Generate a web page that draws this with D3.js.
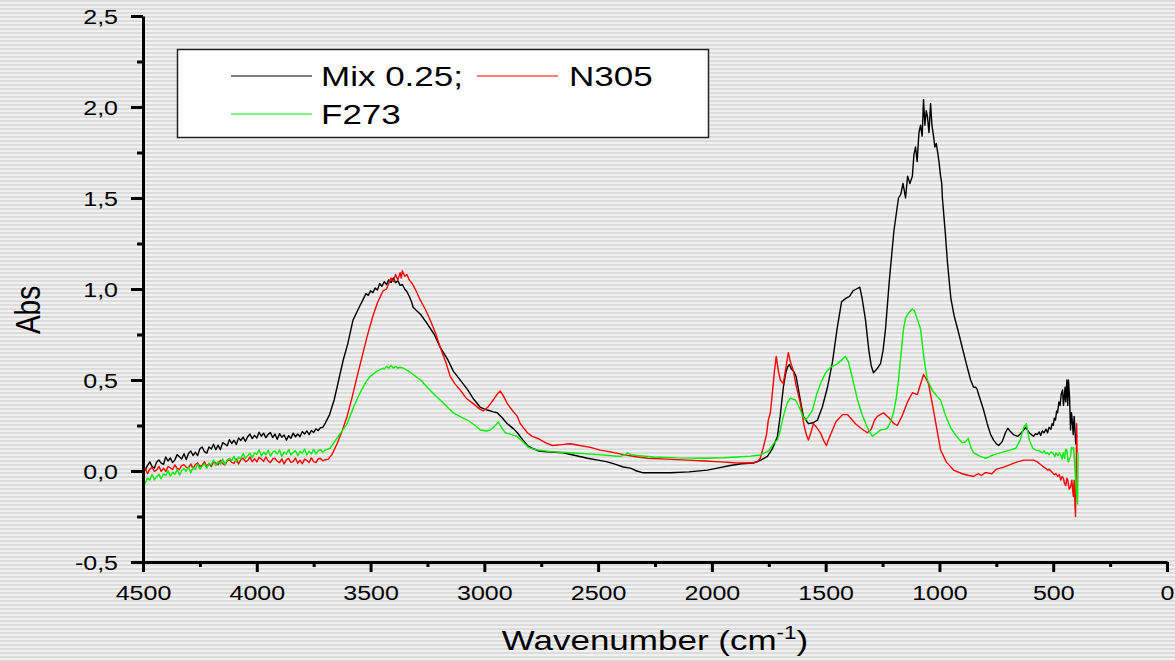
<!DOCTYPE html>
<html>
<head>
<meta charset="utf-8">
<script src="https://cdn.jsdelivr.net/npm/d3@7"></script>
<style>
  body { margin: 0; background: #e8e8e8; }
  svg { display: block; font-family: "Liberation Sans", Arial, sans-serif; }
</style>
</head>
<body>
<svg id="chart" width="1175" height="661"></svg>
<script>
// Axis ticks and labels
const xMajorTicks = [4500, 4000, 3500, 3000, 2500, 2000, 1500, 1000, 500, 0];
const xTickLabels = ["4500", "4000", "3500", "3000", "2500", "2000", "1500", "1000", "500", "0"];
const xMinorTicks = [4250, 3750, 3250, 2750, 2250, 1750, 1250, 750, 250];
const yMajorTicks = [-0.5, 0, 0.5, 1, 1.5, 2, 2.5];
const yTickLabels = ["-0,5", "0,0", "0,5", "1,0", "1,5", "2,0", "2,5"];
const yMinorTicks = [-0.25, 0.25, 0.75, 1.25, 1.75, 2.25];

const seriesNames = ["Mix 0.25;", "N305", "F273"];
const seriesColors = ["#000000", "#ff0000", "#00ee00"];

// Spectra: [wavenumber (cm-1), absorbance]
const mix = [
  [4500,0.032],[4490,0.006],[4480,0.031],[4470,0.05],[4460,0.024],[4450,0.016],[4440,0.049],[4430,0.06],[4420,0.043],[4410,0.036],
  [4400,0.077],[4390,0.055],[4380,0.072],[4370,0.046],[4360,0.061],[4350,0.09],[4340,0.078],[4330,0.066],[4320,0.095],[4310,0.063],
  [4300,0.096],[4290,0.11],[4280,0.085],[4270,0.104],[4260,0.085],[4250,0.122],[4240,0.132],[4230,0.106],[4220,0.098],[4210,0.132],
  [4200,0.121],[4190,0.147],[4180,0.117],[4170,0.142],[4160,0.117],[4150,0.156],[4140,0.148],[4130,0.138],[4120,0.173],[4110,0.151],
  [4100,0.169],[4090,0.146],[4080,0.182],[4070,0.168],[4060,0.186],[4050,0.162],[4040,0.188],[4030,0.203],[4020,0.178],[4010,0.196],
  [4000,0.181],[3990,0.213],[3980,0.192],[3970,0.208],[3960,0.183],[3950,0.201],[3940,0.211],[3930,0.184],[3920,0.203],[3910,0.174],
  [3900,0.205],[3890,0.186],[3880,0.198],[3870,0.17],[3860,0.194],[3850,0.18],[3840,0.208],[3830,0.188],[3820,0.203],[3810,0.188],
  [3800,0.217],[3790,0.203],[3780,0.22],[3770,0.2],[3760,0.223],[3750,0.212],[3740,0.232],[3730,0.222],[3720,0.238],[3710,0.24],
  [3700,0.26],[3680,0.31],[3660,0.39],[3640,0.5],[3620,0.61],[3600,0.7],[3577,0.83],[3550,0.9],[3530,0.95],
  [3520,0.975],[3510,0.965],[3500,0.99],[3490,0.98],[3480,1.005],[3470,0.995],[3460,1.03],[3450,1.015],[3440,1.04],[3430,1.025],
  [3420,1.05],[3410,1.035],[3400,1.06],[3390,1.035],[3380,1.045],[3370,1.02],[3360,1.025],[3350,1.0],[3340,0.985],[3330,0.96],
  [3320,0.93],[3313,0.9],[3280,0.86],[3251,0.81],[3220,0.75],[3194,0.68],[3160,0.61],[3137,0.55],[3100,0.49],[3075,0.45],
  [3050,0.4],[3018,0.35],[2987,0.335],[2960,0.325],[2943,0.32],[2920,0.29],[2899,0.26],[2870,0.23],[2855,0.21],[2830,0.17],
  [2811,0.14],[2790,0.125],[2760,0.11],[2723,0.105],[2653,0.1],[2600,0.085],[2547,0.07],[2500,0.06],[2459,0.05],[2420,0.035],
  [2389,0.022],[2358,0.016],[2330,0.0],[2301,-0.01],[2250,-0.01],[2182,-0.01],[2100,-0.005],[2020,0.005],[1960,0.02],[1919,0.03],
  [1870,0.04],[1817,0.044],[1785,0.06],[1756,0.08],[1735,0.12],[1712,0.19],[1700,0.3],[1686,0.46],[1675,0.54],[1668,0.57],
  [1660,0.585],[1650,0.56],[1642,0.55],[1630,0.52],[1620,0.45],[1610,0.38],[1598,0.3],[1576,0.26],[1555,0.265],[1536,0.28],
  [1515,0.35],[1492,0.46],[1470,0.6],[1450,0.78],[1430,0.93],[1410,0.95],[1395,0.96],[1380,0.99],[1365,1.0],[1350,1.01],
  [1340,0.95],[1325,0.83],[1310,0.66],[1300,0.58],[1290,0.54],[1275,0.56],[1259,0.59],[1248,0.66],[1237,0.78],[1220,1.05],
  [1200,1.32],[1180,1.5],[1170,1.52],[1160,1.58],[1149,1.5],[1140,1.62],[1130,1.58],[1119,1.62],[1112,1.74],[1105,1.78],
  [1098,1.7],[1090,1.86],[1083,1.9],[1076,1.84],[1070,2.04],[1064,1.9],[1058,1.98],[1053,1.95],[1046,1.86],[1039,2.02],
  [1033,1.9],[1026,1.84],[1020,1.78],[1014,1.8],[1009,1.76],[1002,1.7],[995,1.62],[990,1.58],[987,1.5],[975,1.32],
  [965,1.15],[950,0.95],[935,0.85],[920,0.78],[900,0.68],[880,0.58],[863,0.5],[850,0.46],[840,0.46],[835,0.45],
  [820,0.39],[806,0.335],[790,0.26],[775,0.2],[762,0.17],[750,0.15],[740,0.14],[725,0.16],[710,0.21],[700,0.235],
  [690,0.22],[675,0.2],[656,0.19],[640,0.21],[621,0.24],[605,0.21],[586,0.19],[578,0.205],[570,0.2],[562,0.215],[555,0.195],
  [548,0.22],[540,0.21],[532,0.23],[525,0.21],[518,0.24],[510,0.23],[505,0.26],[500,0.25],[495,0.29],[490,0.28],[485,0.33],
  [481,0.32],[475,0.38],[470,0.36],[465,0.42],[459,0.445],[455,0.36],[452,0.4],[448,0.46],[445,0.38],[440,0.5],[436,0.36],
  [433,0.5],[428,0.4],[424,0.225],[420,0.32],[418,0.3],[412,0.2],[408,0.3],[405,0.24],[401,0.15],[398,0.19],[393,0.19]
];

const n305 = [
  [4500,-0.005],[4490,0.013],[4480,-0.015],[4470,0.01],[4460,0.019],[4450,-0.002],[4440,0.005],[4430,0.025],[4420,-0.002],[4410,0.016],
  [4400,-0.002],[4390,0.024],[4380,0.018],[4370,0.008],[4360,0.033],[4350,0.014],[4340,0.007],[4330,0.03],[4320,0.035],[4310,0.021],
  [4300,0.016],[4290,0.039],[4280,0.013],[4270,0.036],[4260,0.045],[4250,0.025],[4240,0.031],[4230,0.051],[4220,0.024],[4210,0.042],
  [4200,0.024],[4190,0.05],[4180,0.044],[4170,0.034],[4160,0.059],[4150,0.04],[4140,0.033],[4130,0.056],[4120,0.061],[4110,0.047],
  [4100,0.042],[4090,0.065],[4080,0.039],[4070,0.062],[4060,0.071],[4050,0.051],[4040,0.057],[4030,0.077],[4020,0.05],[4010,0.068],
  [4000,0.05],[3990,0.075],[3980,0.066],[3970,0.054],[3960,0.077],[3950,0.055],[3940,0.046],[3930,0.067],[3920,0.07],[3910,0.053],
  [3900,0.046],[3890,0.067],[3880,0.039],[3870,0.061],[3860,0.069],[3850,0.047],[3840,0.052],[3830,0.071],[3820,0.043],[3810,0.059],
  [3800,0.04],[3790,0.065],[3780,0.058],[3770,0.047],[3760,0.072],[3750,0.051],[3740,0.046],[3730,0.066],[3720,0.069],[3710,0.056],
  [3700,0.062],[3686,0.065],[3670,0.09],[3647,0.15],[3625,0.22],[3603,0.3],[3580,0.41],[3559,0.52],[3537,0.63],[3515,0.74],
  [3490,0.85],[3471,0.92],[3445,0.99],[3430,1.0],[3420,1.03],[3410,1.06],[3400,1.04],[3390,1.08],[3380,1.05],[3370,1.09],
  [3365,1.06],[3360,1.1],[3350,1.07],[3340,1.08],[3330,1.05],[3317,1.03],[3300,0.99],[3282,0.94],[3260,0.89],[3238,0.83],
  [3215,0.76],[3194,0.68],[3170,0.6],[3150,0.52],[3130,0.48],[3106,0.445],[3080,0.4],[3049,0.37],[3020,0.34],[3005,0.33],
  [2985,0.35],[2961,0.39],[2945,0.42],[2930,0.44],[2915,0.41],[2899,0.37],[2875,0.33],[2855,0.3],[2842,0.26],[2811,0.21],
  [2790,0.19],[2767,0.18],[2730,0.155],[2701,0.14],[2660,0.145],[2622,0.15],[2580,0.14],[2534,0.13],[2490,0.115],[2446,0.105],
  [2389,0.09],[2340,0.08],[2284,0.07],[2200,0.065],[2108,0.06],[2030,0.055],[1963,0.05],[1900,0.045],[1831,0.044],[1800,0.05],
  [1787,0.07],[1774,0.13],[1760,0.2],[1752,0.28],[1743,0.32],[1735,0.42],[1725,0.55],[1717,0.63],[1708,0.55],[1699,0.5],
  [1686,0.48],[1676,0.56],[1664,0.65],[1655,0.6],[1642,0.55],[1630,0.47],[1611,0.37],[1595,0.25],[1585,0.2],[1576,0.17],
  [1565,0.21],[1554,0.26],[1540,0.24],[1523,0.21],[1510,0.17],[1497,0.14],[1485,0.18],[1470,0.225],[1455,0.27],[1448,0.28],
  [1425,0.31],[1404,0.31],[1390,0.29],[1369,0.26],[1345,0.235],[1317,0.21],[1300,0.23],[1285,0.28],[1273,0.3],[1246,0.32],
  [1220,0.29],[1200,0.26],[1185,0.25],[1165,0.3],[1140,0.38],[1119,0.43],[1097,0.42],[1085,0.47],[1070,0.53],[1060,0.51],
  [1048,0.48],[1030,0.36],[1010,0.22],[995,0.115],[970,0.05],[938,0.005],[900,-0.015],[870,-0.025],[850,-0.03],[830,-0.015],
  [815,-0.025],[800,-0.01],[789,-0.01],[770,-0.015],[750,0.01],[720,0.02],[700,0.03],[670,0.045],[630,0.06],[586,0.06],
  [570,0.05],[560,0.04],[550,0.03],[540,0.02],[532,0.015],[525,0.005],[518,0.01],[510,0.0],[503,-0.01],[495,-0.02],
  [488,-0.015],[480,-0.03],[473,-0.02],[467,-0.05],[461,-0.03],[455,-0.04],[450,-0.07],[445,-0.08],[440,-0.04],[436,-0.05],
  [430,-0.1],[424,-0.09],[418,-0.05],[412,-0.14],[408,-0.05],[404,-0.2],[402,-0.25],[399,0.0],[397,0.26],[395,0.1]
];

const f273 = [
  [4500,-0.035],[4490,-0.067],[4480,-0.039],[4470,-0.049],[4460,-0.02],[4450,-0.048],[4440,-0.031],[4430,-0.018],[4420,-0.043],[4410,-0.016],
  [4400,-0.025],[4390,0.002],[4380,-0.029],[4370,-0.006],[4360,-0.019],[4350,0.008],[4340,-0.022],[4330,0.003],[4320,0.012],[4310,-0.001],
  [4300,0.023],[4290,-0.009],[4280,0.019],[4270,0.009],[4260,0.038],[4250,0.011],[4240,0.027],[4230,0.04],[4220,0.015],[4210,0.042],
  [4200,0.033],[4190,0.06],[4180,0.029],[4170,0.052],[4160,0.039],[4150,0.066],[4140,0.036],[4130,0.061],[4120,0.07],[4110,0.057],
  [4100,0.081],[4090,0.049],[4080,0.077],[4070,0.067],[4060,0.096],[4050,0.069],[4040,0.085],[4030,0.098],[4020,0.073],[4010,0.1],
  [4000,0.091],[3990,0.116],[3980,0.083],[3970,0.104],[3960,0.089],[3950,0.114],[3940,0.082],[3930,0.104],[3920,0.11],[3910,0.094],
  [3900,0.115],[3890,0.08],[3880,0.105],[3870,0.092],[3860,0.118],[3850,0.088],[3840,0.102],[3830,0.112],[3820,0.084],[3810,0.108],
  [3800,0.096],[3790,0.121],[3780,0.088],[3770,0.109],[3760,0.094],[3750,0.119],[3740,0.094],[3730,0.111],[3720,0.118],[3710,0.103],
  [3700,0.115],[3678,0.125],[3642,0.19],[3603,0.26],[3575,0.35],[3546,0.43],[3520,0.49],[3502,0.52],[3470,0.55],[3445,0.565],
  [3440,0.56],[3430,0.575],[3420,0.565],[3410,0.58],[3400,0.565],[3390,0.575],[3380,0.565],[3370,0.57],[3357,0.565],[3335,0.55],
  [3313,0.53],[3280,0.5],[3251,0.46],[3220,0.42],[3194,0.39],[3165,0.355],[3137,0.32],[3100,0.295],[3075,0.28],[3040,0.25],
  [3018,0.225],[2990,0.22],[2974,0.225],[2955,0.245],[2939,0.27],[2925,0.24],[2908,0.21],[2880,0.2],[2855,0.19],[2830,0.16],
  [2807,0.13],[2767,0.115],[2700,0.105],[2622,0.1],[2500,0.09],[2402,0.08],[2380,0.09],[2371,0.1],[2355,0.09],[2330,0.085],
  [2257,0.077],[2150,0.072],[2037,0.07],[1950,0.073],[1888,0.077],[1830,0.082],[1787,0.088],[1750,0.11],[1730,0.15],[1712,0.17],
  [1700,0.22],[1686,0.3],[1670,0.37],[1655,0.4],[1645,0.395],[1633,0.39],[1620,0.36],[1611,0.335],[1600,0.3],[1589,0.28],
  [1575,0.3],[1558,0.335],[1540,0.42],[1523,0.48],[1500,0.54],[1479,0.57],[1460,0.58],[1448,0.59],[1430,0.61],[1413,0.63],
  [1400,0.6],[1391,0.555],[1375,0.47],[1360,0.39],[1340,0.31],[1317,0.24],[1295,0.19],[1280,0.205],[1259,0.225],[1240,0.23],
  [1229,0.235],[1215,0.27],[1202,0.32],[1190,0.4],[1180,0.5],[1170,0.63],[1158,0.78],[1149,0.84],[1135,0.87],[1120,0.89],
  [1110,0.88],[1096,0.83],[1083,0.78],[1068,0.62],[1053,0.5],[1030,0.44],[1010,0.41],[995,0.39],[975,0.31],[952,0.24],
  [925,0.19],[899,0.155],[885,0.16],[873,0.18],[862,0.13],[850,0.1],[820,0.08],[797,0.07],[760,0.09],[718,0.105],
  [690,0.115],[665,0.125],[645,0.17],[630,0.24],[618,0.26],[605,0.17],[590,0.125],[575,0.115],[560,0.11],[548,0.1],
  [540,0.11],[532,0.095],[525,0.1],[518,0.09],[510,0.105],[500,0.095],[493,0.08],[487,0.1],[480,0.085],[473,0.1],
  [467,0.09],[461,0.065],[456,0.1],[450,0.07],[445,0.12],[440,0.11],[434,0.05],[430,0.06],[424,0.08],[420,0.13],
  [416,0.12],[410,0.13],[404,0.0],[398,-0.12],[393,-0.18],[391,0.1]
];

const W = 1175, H = 661;
const svg = d3.select("#chart");
const stretch = 1.25; // horizontal glyph stretch of all labels

// Striped backdrop
const defs = svg.append("defs");
const pat = defs.append("pattern")
  .attr("id", "stripes").attr("patternUnits", "userSpaceOnUse")
  .attr("width", 8).attr("height", 4);
pat.append("rect").attr("width", 8).attr("height", 4).attr("fill", "#f1f1f1");
pat.append("rect").attr("width", 8).attr("height", 2).attr("fill", "#dcdcdc");
svg.append("rect").attr("width", W).attr("height", H).attr("fill", "url(#stripes)");

const x = d3.scaleLinear().domain([4500, 0]).range([143, 1167]);
const y = d3.scaleLinear().domain([-0.5, 2.5]).range([562, 16]);

// Spectra
const line = d3.line().x(d => x(d[0])).y(d => y(d[1]));
const plot = svg.append("g");
[mix, n305, f273].forEach((s, i) => {
  plot.append("path").datum(s)
    .attr("d", line)
    .attr("fill", "none")
    .attr("stroke", seriesColors[i])
    .attr("stroke-width", 1.4)
    .attr("stroke-linejoin", "round");
});

// X axis
const xAxisG = svg.append("g").attr("transform", `translate(0,${y(-0.5)})`);
xAxisG.call(d3.axisBottom(x).tickValues(xMajorTicks).tickSize(10).tickSizeOuter(0)
  .tickFormat((d, i) => xTickLabels[i]));
const xMinorG = svg.append("g").attr("transform", `translate(0,${y(-0.5)})`);
xMinorG.call(d3.axisBottom(x).tickValues(xMinorTicks).tickSize(5).tickSizeOuter(0).tickFormat(""));
xMinorG.select(".domain").remove();

// Y axis
const yAxisG = svg.append("g").attr("transform", `translate(${x(4500)},0)`);
yAxisG.call(d3.axisLeft(y).tickValues(yMajorTicks).tickSize(12).tickSizeOuter(0)
  .tickFormat((d, i) => yTickLabels[i]));
const yMinorG = svg.append("g").attr("transform", `translate(${x(4500)},0)`);
yMinorG.call(d3.axisLeft(y).tickValues(yMinorTicks).tickSize(6).tickSizeOuter(0).tickFormat(""));
yMinorG.select(".domain").remove();

svg.selectAll(".domain").attr("stroke", "#000").attr("stroke-width", 3);
svg.selectAll(".tick line").attr("stroke", "#000").attr("stroke-width", 3);

xAxisG.selectAll(".tick text")
  .attr("y", 0).attr("dy", 0)
  .attr("transform", `translate(0,38) scale(${stretch},1)`)
  .attr("text-anchor", "middle")
  .attr("font-size", 20).attr("fill", "#000")
  .attr("font-family", "Liberation Sans, Arial, sans-serif");

yAxisG.selectAll(".tick text")
  .attr("x", 0).attr("dy", "0.36em")
  .attr("transform", `translate(-25,0) scale(${stretch},1)`)
  .attr("text-anchor", "end")
  .attr("font-size", 20).attr("fill", "#000")
  .attr("font-family", "Liberation Sans, Arial, sans-serif");

// Axis titles
svg.append("text")
  .attr("transform", `translate(40,310) scale(${stretch},1) rotate(-90)`)
  .attr("text-anchor", "middle")
  .attr("font-size", 28)
  .text("Abs");

const xt = svg.append("text")
  .attr("transform", `translate(655,650) scale(${stretch},1)`)
  .attr("text-anchor", "middle")
  .attr("font-size", 28);
xt.append("tspan").text("Wavenumber (cm");
xt.append("tspan").attr("dy", -11).attr("font-size", 18).text("-1");
xt.append("tspan").attr("dy", 11).text(")");

// Legend
const leg = svg.append("g");
leg.append("rect")
  .attr("x", 177.5).attr("y", 49.5).attr("width", 531).attr("height", 88)
  .attr("fill", "#fff").attr("stroke", "#222").attr("stroke-width", 1.5);
const legendItems = [
  { i: 0, lx: 231, ly: 76, tx: 321 },
  { i: 1, lx: 477, ly: 76, tx: 569 },
  { i: 2, lx: 231, ly: 114, tx: 321 }
];
legendItems.forEach(it => {
  leg.append("line")
    .attr("x1", it.lx).attr("x2", it.lx + 81)
    .attr("y1", it.ly).attr("y2", it.ly)
    .attr("stroke", seriesColors[it.i]).attr("stroke-width", 1.2);
  leg.append("text")
    .attr("transform", `translate(${it.tx},${it.ly + 10}) scale(${stretch},1)`)
    .attr("font-size", 28)
    .text(seriesNames[it.i]);
});
</script>
</body>
</html>
